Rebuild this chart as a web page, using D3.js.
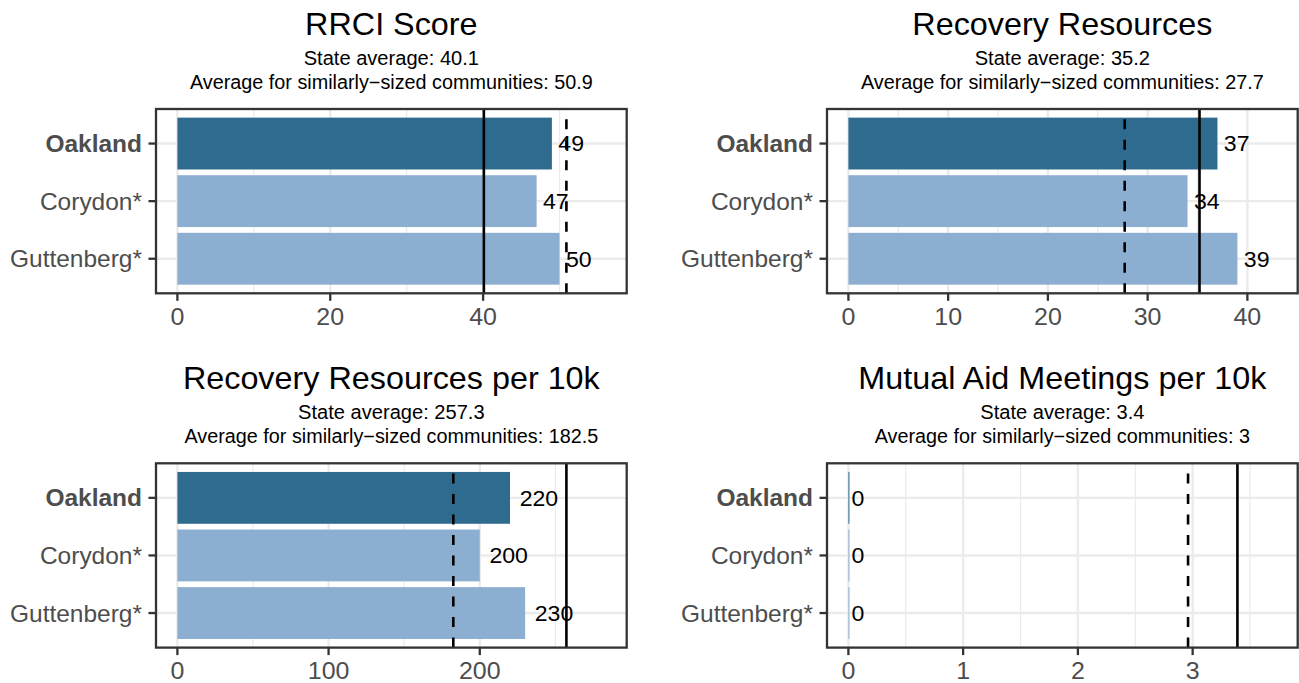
<!DOCTYPE html>
<html>
<head>
<meta charset="utf-8">
<script src="https://cdn.jsdelivr.net/npm/d3@7"></script>
<style>
  body { margin: 0; background: #fff; }
  text { font-family: "Liberation Sans", Arial, Helvetica, sans-serif; }
</style>
</head>
<body>
<svg id="chart" width="1299" height="683"></svg>
<script>
// data
var communities = ["Oakland", "Corydon*", "Guttenberg*"];
var panelTitles = ["RRCI Score", "Recovery Resources", "Recovery Resources per 10k", "Mutual Aid Meetings per 10k"];
var rrciScore = [49, 47, 50];
var recoveryResources = [37, 34, 39];
var resourcesPer10k = [220, 200, 230];
var meetingsPer10k = [0, 0, 0];
var stateAvg = [40.1, 35.2, 257.3, 3.39];
var similarAvg = [50.9, 27.7, 182.5, 2.96];
var tickValues = [[0, 20, 40], [0, 10, 20, 30, 40], [0, 100, 200], [0, 1, 2, 3]];

var seriesList = [rrciScore, recoveryResources, resourcesPer10k, meetingsPer10k];

var svg = d3.select("#chart");
var W = 470.7, H = 184.3;
var panelLeft = [156, 827];
var panelTop = [109, 463.3];
var darkBlue = "#2e6b8e", lightBlue = "#8caed1";
var gridCol = "#ebebeb", axisCol = "#333333", labelCol = "#4d4d4d";

function fmt(v) {
	// R style rounding: 3.0 -> "3"
	return String(+v.toFixed(1));
}

// the reference text is a bit wider than the font's natural width
function widen(sel, k) {
	sel.each(function() {
		var w = this.getComputedTextLength();
		d3.select(this)
			.attr("textLength", w * k)
			.attr("lengthAdjust", "spacingAndGlyphs");
	});
}

function drawPanel(i) {
	var values = seriesList[i];
	var left = panelLeft[i % 2], top = panelTop[Math.floor(i / 2)];
	var g = svg.append("g").attr("transform", "translate(" + left + "," + top + ")");

	var upper = d3.max(values.concat([stateAvg[i], similarAvg[i]])) * 1.1;
	var x = d3.scaleLinear()
		.domain([-0.05 * upper, 1.05 * upper])
		.range([0, W]);
	var y = d3.scaleBand()
		.domain(communities)
		.range([0, H])
		.paddingInner(0.1)
		.paddingOuter(0.15);

	var majors = tickValues[i];
	var step = majors[1] - majors[0];
	var minors = majors.map(function(t) { return t + step / 2; })
		.filter(function(t) { return t < x.domain()[1]; });

	// grid
	g.selectAll(".minor").data(minors).enter().append("line")
		.attr("x1", function(d) { return x(d); })
		.attr("x2", function(d) { return x(d); })
		.attr("y1", 0).attr("y2", H)
		.attr("stroke", gridCol).attr("stroke-width", 1.2);
	g.selectAll(".majorx").data(majors).enter().append("line")
		.attr("x1", function(d) { return x(d); })
		.attr("x2", function(d) { return x(d); })
		.attr("y1", 0).attr("y2", H)
		.attr("stroke", gridCol).attr("stroke-width", 2.4);
	g.selectAll(".majory").data(communities).enter().append("line")
		.attr("x1", 0).attr("x2", W)
		.attr("y1", function(d) { return y(d) + y.bandwidth() / 2; })
		.attr("y2", function(d) { return y(d) + y.bandwidth() / 2; })
		.attr("stroke", gridCol).attr("stroke-width", 2.4);

	// bars
	g.selectAll(".bar").data(values).enter().append("rect")
		.attr("x", x(0))
		.attr("y", function(d, j) { return y(communities[j]); })
		.attr("width", function(d) { return Math.max(x(d) - x(0), 1); })
		.attr("height", y.bandwidth())
		.attr("fill", function(d, j) { return j === 0 ? darkBlue : lightBlue; });

	// average lines, drawn bottom to top like ggplot
	g.append("line")
		.attr("x1", x(stateAvg[i])).attr("x2", x(stateAvg[i]))
		.attr("y1", H).attr("y2", 0)
		.attr("stroke", "#000").attr("stroke-width", 2.6);
	g.append("line")
		.attr("x1", x(similarAvg[i])).attr("x2", x(similarAvg[i]))
		.attr("y1", H).attr("y2", 0)
		.attr("stroke", "#000").attr("stroke-width", 2.6)
		.attr("stroke-dasharray", "10,10.5");

	// value labels
	var vals = g.selectAll(".val").data(values).enter().append("text")
		.attr("y", function(d, j) { return y(communities[j]) + y.bandwidth() / 2; })
		.attr("dy", "0.36em")
		.style("font-size", "22px")
		.attr("fill", "#000")
		.text(function(d) { return d; });
	widen(vals, 1.05);
	vals.attr("x", function(d) {
		var w = +d3.select(this).attr("textLength");
		return x(d) + 0.25 * w;
	});

	// border
	g.append("rect")
		.attr("x", 0).attr("y", 0).attr("width", W).attr("height", H)
		.attr("fill", "none").attr("stroke", axisCol).attr("stroke-width", 2.3);

	// x axis
	var xa = g.append("g").attr("transform", "translate(0," + H + ")");
	xa.selectAll("line").data(majors).enter().append("line")
		.attr("x1", function(d) { return x(d); })
		.attr("x2", function(d) { return x(d); })
		.attr("y1", 0).attr("y2", 7.5)
		.attr("stroke", axisCol).attr("stroke-width", 2.3);
	var xt = xa.selectAll("text").data(majors).enter().append("text")
		.attr("x", function(d) { return x(d); })
		.attr("y", 31.5)
		.attr("text-anchor", "middle")
		.style("font-size", "24px")
		.attr("fill", labelCol)
		.text(function(d) { return d; });
	widen(xt, 1.04);

	// y axis
	var ya = g.append("g");
	ya.selectAll("line").data(communities).enter().append("line")
		.attr("x1", -7.5).attr("x2", 0)
		.attr("y1", function(d) { return y(d) + y.bandwidth() / 2; })
		.attr("y2", function(d) { return y(d) + y.bandwidth() / 2; })
		.attr("stroke", axisCol).attr("stroke-width", 2.3);
	var yt = ya.selectAll("text").data(communities).enter().append("text")
		.attr("x", -14)
		.attr("y", function(d) { return y(d) + y.bandwidth() / 2; })
		.attr("dy", "0.36em")
		.attr("text-anchor", "end")
		.style("font-size", "24px")
		.style("font-weight", function(d, j) { return j === 0 ? "bold" : "normal"; })
		.attr("fill", labelCol)
		.text(function(d) { return d; });
	widen(yt, 1.02);

	// title + subtitle
	var cx = W / 2;
	var tt = g.append("text")
		.attr("x", cx).attr("y", -74)
		.attr("text-anchor", "middle")
		.style("font-size", "30.5px")
		.attr("fill", "#000")
		.text(panelTitles[i]);
	widen(tt, 1.06);
	var s1 = g.append("text")
		.attr("x", cx).attr("y", -44)
		.attr("text-anchor", "middle")
		.style("font-size", "19.5px")
		.attr("fill", "#000")
		.text("State average: " + fmt(stateAvg[i]));
	widen(s1, 1.03);
	var s2 = g.append("text")
		.attr("x", cx).attr("y", -20)
		.attr("text-anchor", "middle")
		.style("font-size", "19.5px")
		.attr("fill", "#000")
		.text("Average for similarly\u2212sized communities: " + fmt(similarAvg[i]));
	widen(s2, 1.015);
}

for (var i = 0; i < 4; i++) {
	drawPanel(i);
}
</script>
</body>
</html>
